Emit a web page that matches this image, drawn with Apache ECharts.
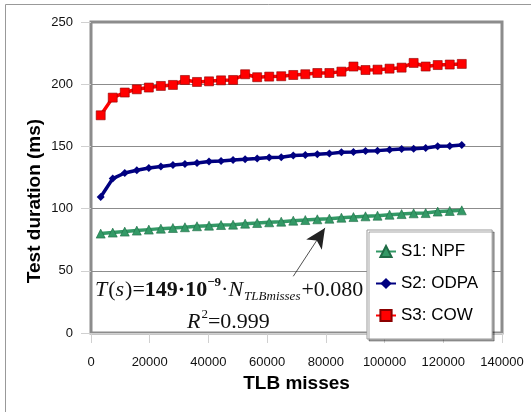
<!DOCTYPE html>
<html>
<head>
<meta charset="utf-8">
<script src="https://cdn.jsdelivr.net/npm/echarts@6/dist/echarts.min.js"></script>
<style>
  html, body { margin: 0; padding: 0; background: #fff; }
  #chart { width: 531px; height: 412px; }
</style>
</head>
<body>
<div id="chart"></div>
<script>
// TLB misses (x) shared by all three runs
const tlbMisses = [3300, 7400, 11500, 15600, 19700, 23800, 27900, 32000, 36100, 40200,
  44300, 48400, 52500, 56600, 60700, 64800, 68900, 73000, 77100, 81200,
  85300, 89400, 93500, 97600, 101700, 105800, 109900, 114000, 118100, 122200, 126300]

const npf = [79.9, 80.7, 81.5, 82.3, 83.1, 83.9, 84.4, 85.0, 85.8, 86.3,
  86.8, 87.1, 87.9, 88.4, 89.0, 89.5, 90.3, 90.8, 91.4, 91.9,
  92.7, 93.2, 93.8, 94.3, 95.1, 95.6, 96.2, 96.4, 97.6, 98.1, 98.6]

const odpa = [109.3, 124.1, 128.6, 130.8, 132.7, 133.8, 135.1, 135.9, 136.7, 137.8,
  138.3, 139.1, 139.6, 140.2, 141.0, 141.2, 142.6, 143.1, 143.7, 144.2,
  145.3, 145.5, 146.3, 146.6, 147.4, 147.9, 148.2, 148.7, 150.1, 150.3, 151.1]

const cow = [175.0, 189.2, 193.3, 195.9, 197.3, 198.6, 199.4, 203.4, 201.8, 202.3,
  203.1, 203.4, 208.0, 205.6, 206.1, 206.4, 207.4, 208.0, 209.0, 209.0,
  210.1, 214.2, 211.4, 211.7, 212.5, 213.3, 217.1, 214.2, 215.4, 215.8, 216.3]

const seriesNames = ['S1: NPF', 'S2: ODPA', 'S3: COW']

const pairs = (ys) => tlbMisses.map((x, i) => [x, ys[i]])

const serifFam = '"Liberation Serif", "DejaVu Serif", serif'
const sans = '"Liberation Sans", Arial, sans-serif'

// formula pieces: [text, italic, bold, size, baseline shift]
const formulaLine = [
  ['T', 1, 0, 22, 0], ['(', 0, 0, 22, 0], ['s', 1, 0, 22, 0], [')=', 0, 0, 22, 0],
  ['149·10', 0, 1, 22, 0], ['−9', 0, 1, 13, -10], ['·', 0, 0, 22, 0],
  ['N', 1, 0, 22, 0], ['TLBmisses', 1, 0, 13, 4], ['+0.080', 0, 0, 22, 0]
]
const fitLine = [['R', 1, 0, 22, 0], ['2', 0, 0, 13, -10], ['=0.999', 0, 0, 22, 0]]

// lay the pieces out one after another, measured with a canvas
const measureCtx = document.createElement('canvas').getContext('2d')
function buildText(pieces, x0, baseline) {
  let x = x0
  let out = []
  pieces.forEach(([txt, it, bold, size, dy]) => {
    const font = (it ? 'italic ' : '') + (bold ? 'bold ' : '') + size + 'px ' + serifFam
    measureCtx.font = font
    const w = measureCtx.measureText(txt).width
    out.push({
      type: 'text', x: x, y: baseline + dy + size * 0.22, z: 10,
      style: {
        text: txt, fill: '#111', fontFamily: serifFam, fontSize: size,
        fontStyle: it ? 'italic' : 'normal', fontWeight: bold ? 'bold' : 'normal',
        align: 'left', verticalAlign: 'bottom'
      }
    })
    x += w + (it ? 1 : 0)
  })
  return out
}

let myChart = echarts.init(document.getElementById('chart'))

let options = {
  backgroundColor: '#fff',
  animation: false,
  grid: {
    left: 91, right: 29, top: 22, bottom: 79,
    show: true,
    borderColor: '#8c8c8c',
    borderWidth: 3,
    backgroundColor: 'transparent'
  },
  xAxis: {
    type: 'value',
    min: 0, max: 140000, interval: 20000,
    name: 'TLB misses',
    nameLocation: 'middle',
    nameGap: 40,
    nameTextStyle: { fontFamily: sans, fontSize: 19, fontWeight: 'bold', color: '#000' },
    axisLine: { show: true, lineStyle: { color: '#d0d0d0' } },
    axisTick: { show: true, length: 10, lineStyle: { color: '#d0d0d0' } },
    axisLabel: { fontFamily: sans, fontSize: 13, color: '#111', margin: 23, formatter: (v) => String(v) },
    splitLine: { show: false }
  },
  yAxis: {
    type: 'value',
    min: 0, max: 250, interval: 50,
    axisLine: { show: false },
    axisTick: { show: true, length: 10, lineStyle: { color: '#d0d0d0' } },
    axisLabel: { fontFamily: sans, fontSize: 13, color: '#111', margin: 18 },
    splitLine: { show: true, lineStyle: { color: '#8c8c8c', width: 1 } }
  },
  legend: {
    orient: 'vertical',
    left: 367, top: 230,
    padding: [13, 14, 15, 8],
    itemWidth: 20, itemHeight: 14, itemGap: 15,
    backgroundColor: '#fff',
    borderColor: '#999',
    borderWidth: 1,
    shadowColor: 'rgba(0,0,0,0.35)',
    shadowOffsetX: 2, shadowOffsetY: 2, shadowBlur: 0,
    textStyle: { fontFamily: sans, fontSize: 17, color: '#000' },
    data: seriesNames
  },
  series: [
    {
      name: seriesNames[0],
      type: 'line',
      data: pairs(npf),
      symbol: 'triangle',
      symbolSize: 9,
      lineStyle: { color: '#339966', width: 3.5 },
      itemStyle: { color: '#339966', borderColor: '#1f6b45', borderWidth: 0.6 },
      markLine: {
        silent: true,
        symbol: ['none', 'arrow'],
        symbolSize: [14, 20],
        label: { show: false },
        lineStyle: { color: '#222', width: 0.8, type: 'solid' },
        data: [[{ coord: [68900, 45.6] }, { coord: [79700, 84.5] }]]
      }
    },
    {
      name: seriesNames[1],
      type: 'line',
      data: pairs(odpa),
      symbol: 'diamond',
      symbolSize: 8,
      lineStyle: { color: '#000080', width: 3.5 },
      itemStyle: { color: '#000080' }
    },
    {
      name: seriesNames[2],
      type: 'line',
      data: pairs(cow),
      symbol: 'rect',
      symbolSize: 9,
      lineStyle: { color: '#ff0000', width: 3.5 },
      itemStyle: { color: '#ff0000', borderColor: '#8b0000', borderWidth: 0.6 }
    }
  ],
  graphic: [
    // outer frame (top and left edges only, as in the original)
    { type: 'line', shape: { x1: 5.5, y1: 4.5, x2: 531, y2: 4.5 }, style: { stroke: '#999', lineWidth: 1 } },
    { type: 'line', shape: { x1: 5.5, y1: 4.5, x2: 5.5, y2: 412 }, style: { stroke: '#999', lineWidth: 1 } },
    // y axis title sits a bit below the middle in the original
    {
      type: 'text', x: 35, y: 201, rotation: Math.PI / 2,
      style: {
        text: 'Test duration (ms)', fill: '#000', fontFamily: sans, fontSize: 19,
        fontWeight: 'bold', align: 'center', verticalAlign: 'middle'
      }
    }
  ].concat(buildText(formulaLine, 95, 296.5), buildText(fitLine, 187, 328))
}

options && myChart.setOption(options)
</script>
</body>
</html>
